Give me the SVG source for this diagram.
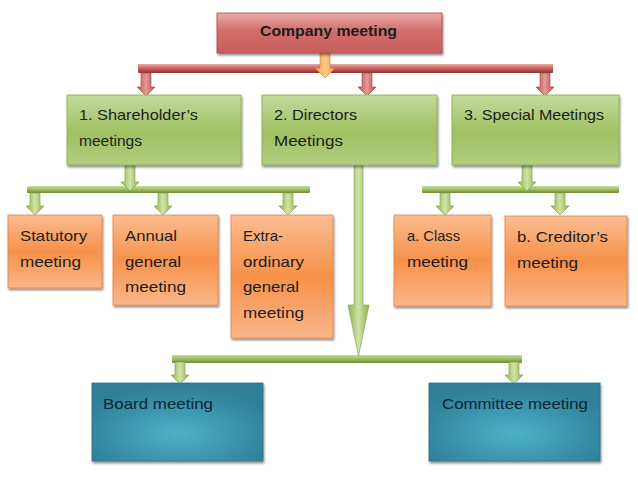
<svg xmlns="http://www.w3.org/2000/svg" width="638" height="479" viewBox="0 0 638 479">
<defs>
<linearGradient id="gRed" x1="0" y1="0" x2="0" y2="1">
<stop offset="0" stop-color="#e9abaa"/><stop offset="0.45" stop-color="#d06e6b"/><stop offset="1" stop-color="#c85d5a"/>
</linearGradient>
<linearGradient id="gGreen" x1="0" y1="0" x2="0" y2="1">
<stop offset="0" stop-color="#c3da9c"/><stop offset="0.55" stop-color="#a0c062"/><stop offset="1" stop-color="#b2cd80"/>
</linearGradient>
<linearGradient id="gOrange" x1="0" y1="0" x2="0" y2="1">
<stop offset="0" stop-color="#fbbd92"/><stop offset="0.5" stop-color="#f6914a"/><stop offset="1" stop-color="#fab78a"/>
</linearGradient>
<radialGradient id="gTeal" cx="0.5" cy="0.65" r="0.6">
<stop offset="0" stop-color="#4eb0c9"/><stop offset="1" stop-color="#2f8098"/>
</radialGradient>
<linearGradient id="gRedBar" x1="0" y1="0" x2="0" y2="1">
<stop offset="0" stop-color="#e7a9a7"/><stop offset="0.5" stop-color="#c95f5c"/><stop offset="1" stop-color="#8e3331"/>
</linearGradient>
<linearGradient id="gGreenBar" x1="0" y1="0" x2="0" y2="1">
<stop offset="0" stop-color="#c8de9f"/><stop offset="0.5" stop-color="#9dbd5e"/><stop offset="1" stop-color="#6e8c35"/>
</linearGradient>
<linearGradient id="gRedArr" x1="0" y1="0" x2="1" y2="0">
<stop offset="0" stop-color="#b84d4a"/><stop offset="0.5" stop-color="#e39a98"/><stop offset="1" stop-color="#b84d4a"/>
</linearGradient>
<linearGradient id="gGreenArr" x1="0" y1="0" x2="1" y2="0">
<stop offset="0" stop-color="#8fb150"/><stop offset="0.5" stop-color="#cfe3a8"/><stop offset="1" stop-color="#8fb150"/>
</linearGradient>
<linearGradient id="gOrangeArr" x1="0" y1="0" x2="1" y2="0">
<stop offset="0" stop-color="#f59a45"/><stop offset="0.5" stop-color="#fcc98a"/><stop offset="1" stop-color="#f59a45"/>
</linearGradient>
<filter id="sh" x="-5%" y="-5%" width="115%" height="120%">
<feDropShadow dx="1" dy="2" stdDeviation="0.8" flood-color="#000" flood-opacity="0.45"/>
</filter>
</defs>
<style>
text{font-family:"Liberation Sans",Arial,sans-serif;font-size:15px;fill:#1d1d1d}
.b{font-weight:bold}
.red{fill:url(#gRed);stroke:#b04744;stroke-width:0.8;filter:url(#sh)}
.grn{fill:url(#gGreen);stroke:#8aab4e;stroke-width:0.8;filter:url(#sh)}
.org{fill:url(#gOrange);stroke:#e9823c;stroke-width:0.8;filter:url(#sh)}
.teal{fill:url(#gTeal);stroke:#2a7186;stroke-width:0.8;filter:url(#sh)}
.tt{fill:#0e2533}
.rbar{fill:url(#gRedBar)}
.gbar{fill:url(#gGreenBar)}
.rarr{fill:url(#gRedArr);stroke:#a8433f;stroke-width:0.6}
.garr{fill:url(#gGreenArr);stroke:#7c9c42;stroke-width:0.6}
.oarr{fill:url(#gOrangeArr);stroke:#e07d2c;stroke-width:0.6}
</style>

<g id="connectors">
<rect class="rbar" x="138" y="64" width="415" height="9" rx="1"/>
<path class="oarr" d="M320 53 H330 V68 H335 L325 78 L315 68 H320 Z"/>
<path class="rarr" d="M141 73 H151 V87 H155 L146 96 L137 87 H141 Z"/>
<path class="rarr" d="M362 73 H372 V87 H376 L367 96 L358 87 H362 Z"/>
<path class="rarr" d="M540 73 H550 V87 H554 L545 96 L536 87 H540 Z"/>

<rect class="gbar" x="27" y="186" width="283" height="7" rx="1"/>
<path class="garr" d="M125 165 H135 V182 H139 L130 191 L121 182 H125 Z"/>
<path class="garr" d="M30 193 H40 V206 H44 L35 215 L26 206 H30 Z"/>
<path class="garr" d="M158 193 H168 V206 H172 L163 215 L154 206 H158 Z"/>
<path class="garr" d="M283 193 H293 V206 H297 L288 215 L279 206 H283 Z"/>

<rect class="gbar" x="422" y="186" width="197" height="7" rx="1"/>
<path class="garr" d="M522 165 H532 V182 H536 L527 191 L518 182 H522 Z"/>
<path class="garr" d="M440 193 H450 V206 H454 L445 215 L436 206 H440 Z"/>
<path class="garr" d="M555 193 H565 V206 H569 L560 215 L551 206 H555 Z"/>

<rect class="gbar" x="172" y="355" width="350" height="8" rx="1"/>
<path class="garr" d="M354 165 H363 V305 H369 L358.5 356 L348 305 H354 Z"/>
<path class="garr" d="M175 362 H185 V375 H189 L180 384 L171 375 H175 Z"/>
<path class="garr" d="M509 362 H519 V375 H523 L514 384 L505 375 H509 Z"/>
</g>

<g id="company">
<rect class="red" x="217" y="13" width="225" height="40"/>
<text class="b" x="260" y="36" textLength="137" lengthAdjust="spacingAndGlyphs">Company meeting</text>
</g>

<g id="shareholders">
<rect class="grn" x="67" y="95" width="174" height="70"/>
<text x="79" y="120" textLength="119" lengthAdjust="spacingAndGlyphs">1. Shareholder’s</text>
<text x="79" y="146" textLength="63" lengthAdjust="spacingAndGlyphs">meetings</text>
</g>
<g id="directors">
<rect class="grn" x="262" y="95" width="175" height="70"/>
<text x="274" y="120" textLength="83" lengthAdjust="spacingAndGlyphs">2. Directors</text>
<text x="274" y="146" textLength="69" lengthAdjust="spacingAndGlyphs">Meetings</text>
</g>
<g id="special">
<rect class="grn" x="452" y="95" width="167" height="70"/>
<text x="464" y="120" textLength="140" lengthAdjust="spacingAndGlyphs">3. Special Meetings</text>
</g>

<g id="statutory">
<rect class="org" x="8" y="215" width="94" height="73"/>
<text x="20" y="241" textLength="67" lengthAdjust="spacingAndGlyphs">Statutory</text>
<text x="20" y="267" textLength="61" lengthAdjust="spacingAndGlyphs">meeting</text>
</g>
<g id="annual">
<rect class="org" x="113" y="215" width="105" height="90"/>
<text x="125" y="241" textLength="52" lengthAdjust="spacingAndGlyphs">Annual</text>
<text x="125" y="267" textLength="56" lengthAdjust="spacingAndGlyphs">general</text>
<text x="125" y="292" textLength="61" lengthAdjust="spacingAndGlyphs">meeting</text>
</g>
<g id="extraordinary">
<rect class="org" x="231" y="215" width="102" height="123"/>
<text x="243" y="241">Extra-</text>
<text x="243" y="267" textLength="61" lengthAdjust="spacingAndGlyphs">ordinary</text>
<text x="243" y="292" textLength="56" lengthAdjust="spacingAndGlyphs">general</text>
<text x="243" y="318" textLength="61" lengthAdjust="spacingAndGlyphs">meeting</text>
</g>
<g id="class">
<rect class="org" x="394" y="215" width="97" height="91"/>
<text x="407" y="241" textLength="53" lengthAdjust="spacingAndGlyphs">a. Class</text>
<text x="407" y="267" textLength="61" lengthAdjust="spacingAndGlyphs">meeting</text>
</g>
<g id="creditors">
<rect class="org" x="505" y="216" width="122" height="90"/>
<text x="517" y="242" textLength="91" lengthAdjust="spacingAndGlyphs">b. Creditor’s</text>
<text x="517" y="268" textLength="61" lengthAdjust="spacingAndGlyphs">meeting</text>
</g>

<g id="board">
<rect class="teal" x="92" y="383" width="171" height="78"/>
<text class="tt" x="103" y="409" textLength="110" lengthAdjust="spacingAndGlyphs">Board meeting</text>
</g>
<g id="committee">
<rect class="teal" x="429" y="383" width="171" height="78"/>
<text class="tt" x="442" y="409" textLength="146" lengthAdjust="spacingAndGlyphs">Committee meeting</text>
</g>
</svg>
